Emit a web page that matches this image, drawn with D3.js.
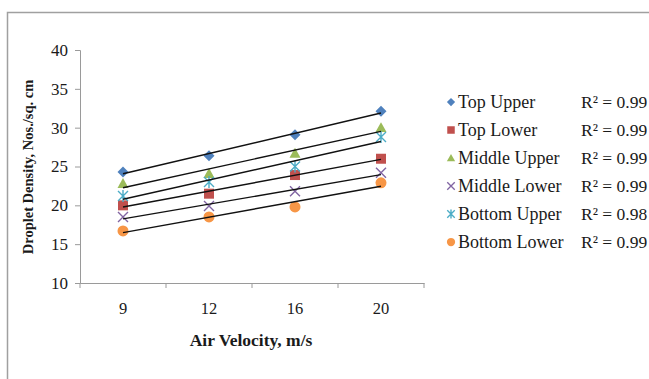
<!DOCTYPE html>
<html><head><meta charset="utf-8">
<script src="https://cdn.jsdelivr.net/npm/d3@7"></script>
<style>body{margin:0;background:#fff}svg{display:block}</style>
</head><body>
<script>
const categories = ["9","12","16","20"];
const seriesNames = ["Top Upper","Top Lower","Middle Upper","Middle Lower","Bottom Upper","Bottom Lower"];
const topUpper = [24.3,26.4,29.1,32.1];
const topLower = [20.0,21.5,23.9,26.0];
const middleUpper = [22.8,24.1,26.7,30.0];
const middleLower = [18.5,19.9,21.8,24.2];
const bottomUpper = [21.2,23.0,25.0,28.8];
const bottomLower = [16.7,18.5,19.8,22.9];
const r2Labels = ["R² = 0.99","R² = 0.99","R² = 0.99","R² = 0.99","R² = 0.98","R² = 0.99"];
const yTicks = [10,15,20,25,30,35,40];

const values = [topUpper, topLower, middleUpper, middleLower, bottomUpper, bottomLower];
const colors = ["#4F81BD","#C0504D","#9BBB59","#8064A2","#4BACC6","#F79646"];
const shapes = ["diamond","square","triangle","x","star","circle"];

const W=649,H=379;
const svg=d3.select("body").append("svg").attr("width",W).attr("height",H);
const font="Liberation Serif, Times New Roman, serif";
const txt="#1a1a1a";

// outer frame
svg.append("path").attr("d","M7.5,379 L7.5,12.5 L649,12.5").attr("fill","none").attr("stroke","#a0a0a0").attr("stroke-width",1.5);

const x=d3.scaleBand().domain(categories).range([80,424]);
const y=d3.scaleLinear().domain([10,40]).range([283,50]);
const axisColor="#9a9a9a";

// y axis
const ya=svg.append("g").attr("transform","translate(80,0)").call(d3.axisLeft(y).tickValues(yTicks).tickSize(5).tickPadding(7));
ya.select(".domain").attr("stroke",axisColor);
ya.selectAll(".tick line").attr("stroke",axisColor);
ya.selectAll(".tick text").attr("font-family",font).attr("font-size",17).attr("fill",txt);

// x axis
const xa=svg.append("g").attr("transform","translate(0,283)").call(d3.axisBottom(x).tickSize(0).tickPadding(19));
xa.select(".domain").attr("stroke",axisColor);
xa.selectAll(".tick text").attr("font-family",font).attr("font-size",16.5).attr("fill",txt);
// ticks between categories
const bounds=categories.map(c=>x(c)).concat([x.range()[1]]);
svg.append("g").selectAll("line").data(bounds).join("line")
  .attr("x1",d=>d).attr("x2",d=>d).attr("y1",283).attr("y2",288).attr("stroke",axisColor);

// axis titles
svg.append("text").attr("x",251).attr("y",346).attr("text-anchor","middle").attr("font-family",font)
  .attr("font-weight","bold").attr("font-size",17.5).attr("fill",txt).text("Air Velocity, m/s");
svg.append("text").attr("transform","translate(33,167) rotate(-90)").attr("text-anchor","middle").attr("font-family",font)
  .attr("font-weight","bold").attr("font-size",14.5).attr("fill",txt).text("Droplet Density, Nos./sq. cm");

function drawMarker(g,shape,color,cx,cy,s){
  const t=`translate(${cx},${cy})`;
  if(shape==="x"){
    const r=5*s;
    g.append("path").attr("d",`M${-r},${-r}L${r},${r}M${-r},${r}L${r},${-r}`).attr("transform",t).attr("fill","none").attr("stroke",color).attr("stroke-width",1.4);
  } else if(shape==="star"){
    const r=5*s;
    g.append("path").attr("d",`M${-r},${-r}L${r},${r}M${-r},${r}L${r},${-r}M0,${-r*1.2}L0,${r*1.2}`).attr("transform",t).attr("fill","none").attr("stroke",color).attr("stroke-width",1.4);
  } else if(shape==="diamond"){
    const r=5.5*s;
    g.append("path").attr("d",`M0,${-r}L${r},0L0,${r}L${-r},0Z`).attr("transform",t).attr("fill",color);
  } else if(shape==="square"){
    g.append("path").attr("d",d3.symbol().type(d3.symbolSquare).size(100*s*s)()).attr("transform",t).attr("fill",color);
  } else if(shape==="triangle"){
    const r=5.5*s;
    g.append("path").attr("d",`M0,${-r}L${r},${r*0.8}L${-r},${r*0.8}Z`).attr("transform",t).attr("fill",color);
  } else {
    g.append("circle").attr("cx",cx).attr("cy",cy).attr("r",5.5*s).attr("fill",color);
  }
}

// markers
const mg=svg.append("g");
values.forEach((vals,i)=>{
  vals.forEach((v,j)=>drawMarker(mg,shapes[i],colors[i],x(categories[j])+x.bandwidth()/2,y(v),1));
});

// trendlines (linear regression over category index)
const tg=svg.append("g");
values.forEach(vals=>{
  const n=vals.length, xs=vals.map((_,j)=>j+1);
  const mx=d3.mean(xs), my=d3.mean(vals);
  const b=d3.sum(xs.map((xv,j)=>(xv-mx)*(vals[j]-my)))/d3.sum(xs.map(xv=>(xv-mx)**2));
  const a=my-b*mx;
  const x0=x(categories[0])+x.bandwidth()/2, x1=x(categories[n-1])+x.bandwidth()/2;
  tg.append("line").attr("x1",x0).attr("y1",y(a+b*1)).attr("x2",x1).attr("y2",y(a+b*n))
    .attr("stroke","#111").attr("stroke-width",1.4);
});

// legend
const lg=svg.append("g");
seriesNames.forEach((name,i)=>{
  const cy=102+i*28;
  drawMarker(lg,shapes[i],colors[i],451,cy,0.75);
  lg.append("text").attr("x",458).attr("y",cy+6).attr("font-family",font).attr("font-size",18).attr("fill",txt).text(name);
  lg.append("text").attr("x",581).attr("y",cy+6).attr("font-family",font).attr("font-size",17.5).attr("fill",txt).text(r2Labels[i]);
});
</script>
</body></html>
